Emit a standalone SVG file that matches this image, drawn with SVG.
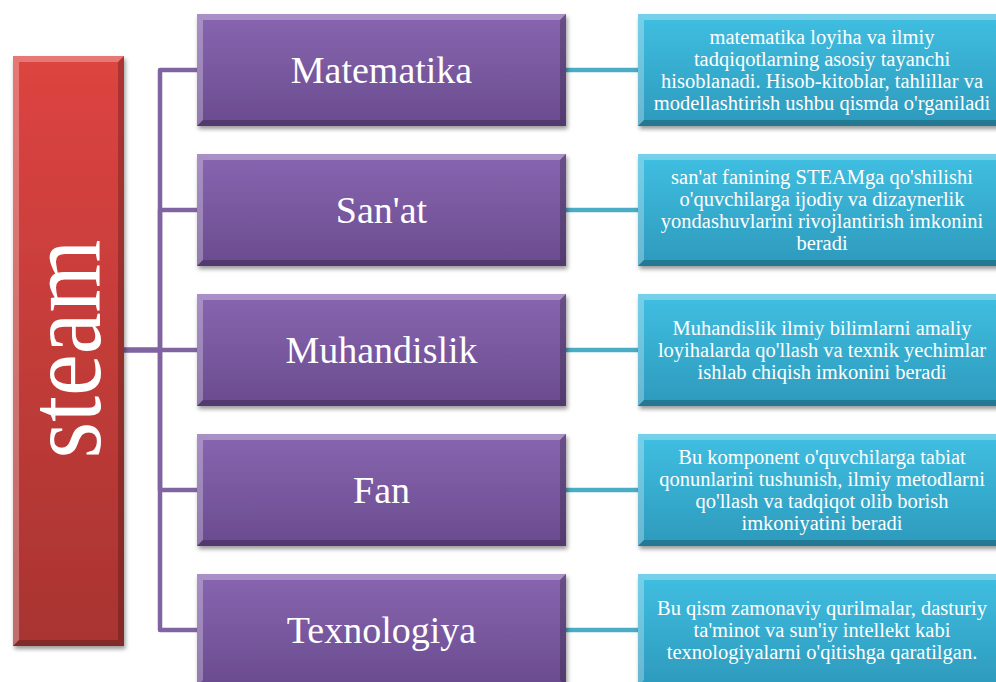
<svg xmlns="http://www.w3.org/2000/svg" width="996" height="682" viewBox="0 0 996 682">
<defs>
<linearGradient id="gRed" x1="0" y1="0" x2="0" y2="1"><stop offset="0" stop-color="#dd4441"/><stop offset="1" stop-color="#a83431"/></linearGradient>
<linearGradient id="gPur" x1="0" y1="0" x2="0" y2="1"><stop offset="0" stop-color="#8866b0"/><stop offset="1" stop-color="#6a4b8f"/></linearGradient>
<linearGradient id="gCyn" x1="0" y1="0" x2="0" y2="1"><stop offset="0" stop-color="#40bfe2"/><stop offset="1" stop-color="#2d9abc"/></linearGradient>
<filter id="sh" x="-10%" y="-10%" width="120%" height="130%"><feDropShadow dx="1.5" dy="3" stdDeviation="2" flood-color="#000" flood-opacity="0.4"/></filter>
</defs>
<style>
.lbl{font-family:"Liberation Serif","Times New Roman",serif;fill:#fff;text-anchor:middle;font-size:38px}
.desc{font-family:"Liberation Serif","Times New Roman",serif;fill:#fff;text-anchor:middle;font-size:20.5px}
.hl{fill:#fff;opacity:0.28}
.dk{fill:#000;opacity:0.22}
.cp{fill:none;stroke:#8064a2;stroke-width:4.5;stroke-linejoin:round}
.ct{fill:none;stroke:#4bacc6;stroke-width:4.5}
</style>
<rect width="996" height="682" fill="#fff"/>
<g id="connectors">
<path class="cp" d="M124,350 H160 V70 H197"/>
<path class="cp" d="M124,350 H160 V210 H197"/>
<path class="cp" d="M124,350 H197"/>
<path class="cp" d="M124,350 H160 V490 H197"/>
<path class="cp" d="M124,350 H160 V630 H197"/>
<path class="ct" d="M566,70 H638"/>
<path class="ct" d="M566,210 H638"/>
<path class="ct" d="M566,350 H638"/>
<path class="ct" d="M566,490 H638"/>
<path class="ct" d="M566,630 H638"/>
</g>
<g id="steam">
<rect x="13" y="56" width="111" height="590" fill="url(#gRed)" filter="url(#sh)"/>
<polygon class="hl" points="13,56 124,56 118,62 19,62"/>
<polygon class="hl" points="13,56 19,62 19,640 13,646"/>
<polygon class="dk" points="124,56 124,646 118,640 118,62"/>
<polygon class="dk" points="13,646 124,646 118,640 19,640"/>
<text transform="translate(100,349) rotate(-90) scale(1,1.12)" style="font-family:'Liberation Serif','Times New Roman',serif;fill:#fff;font-size:94px;text-anchor:middle">steam</text>
</g>
<g id="matematika">
<rect x="197" y="14" width="369" height="112" fill="url(#gPur)" filter="url(#sh)"/>
<polygon class="hl" points="197,14 566,14 560,20 203,20"/><polygon class="hl" points="197,14 203,20 203,120 197,126"/><polygon class="dk" points="566,14 566,126 560,120 560,20"/><polygon class="dk" points="197,126 566,126 560,120 203,120"/>
<text class="lbl" x="381.5" y="83">Matematika</text>
</g>
<g id="sanat">
<rect x="197" y="154" width="369" height="112" fill="url(#gPur)" filter="url(#sh)"/>
<polygon class="hl" points="197,154 566,154 560,160 203,160"/><polygon class="hl" points="197,154 203,160 203,260 197,266"/><polygon class="dk" points="566,154 566,266 560,260 560,160"/><polygon class="dk" points="197,266 566,266 560,260 203,260"/>
<text class="lbl" x="381.5" y="223">San'at</text>
</g>
<g id="muhandislik">
<rect x="197" y="294" width="369" height="112" fill="url(#gPur)" filter="url(#sh)"/>
<polygon class="hl" points="197,294 566,294 560,300 203,300"/><polygon class="hl" points="197,294 203,300 203,400 197,406"/><polygon class="dk" points="566,294 566,406 560,400 560,300"/><polygon class="dk" points="197,406 566,406 560,400 203,400"/>
<text class="lbl" x="381.5" y="363">Muhandislik</text>
</g>
<g id="fan">
<rect x="197" y="434" width="369" height="112" fill="url(#gPur)" filter="url(#sh)"/>
<polygon class="hl" points="197,434 566,434 560,440 203,440"/><polygon class="hl" points="197,434 203,440 203,540 197,546"/><polygon class="dk" points="566,434 566,546 560,540 560,440"/><polygon class="dk" points="197,546 566,546 560,540 203,540"/>
<text class="lbl" x="381.5" y="503">Fan</text>
</g>
<g id="texnologiya">
<rect x="197" y="574" width="369" height="112" fill="url(#gPur)" filter="url(#sh)"/>
<polygon class="hl" points="197,574 566,574 560,580 203,580"/><polygon class="hl" points="197,574 203,580 203,680 197,686"/><polygon class="dk" points="566,574 566,686 560,680 560,580"/>
<text class="lbl" x="381.5" y="643">Texnologiya</text>
</g>
<g id="desc-matematika">
<rect x="638" y="14" width="370" height="112" fill="url(#gCyn)" filter="url(#sh)"/>
<polygon class="hl" points="638,14 1008,14 1002,20 644,20"/><polygon class="hl" points="638,14 644,20 644,120 638,126"/><polygon class="dk" points="638,126 1008,126 1002,120 644,120"/>
<text class="desc" x="822"><tspan x="822" y="44">matematika loyiha va ilmiy</tspan><tspan x="822" y="66">tadqiqotlarning asosiy tayanchi</tspan><tspan x="822" y="88">hisoblanadi. Hisob-kitoblar, tahlillar va</tspan><tspan x="822" y="110">modellashtirish ushbu qismda o'rganiladi</tspan></text>
</g>
<g id="desc-sanat">
<rect x="638" y="154" width="370" height="112" fill="url(#gCyn)" filter="url(#sh)"/>
<polygon class="hl" points="638,154 1008,154 1002,160 644,160"/><polygon class="hl" points="638,154 644,160 644,260 638,266"/><polygon class="dk" points="638,266 1008,266 1002,260 644,260"/>
<text class="desc" x="822"><tspan x="822" y="184">san'at fanining STEAMga qo'shilishi</tspan><tspan x="822" y="206">o'quvchilarga ijodiy va dizaynerlik</tspan><tspan x="822" y="228">yondashuvlarini rivojlantirish imkonini</tspan><tspan x="822" y="250">beradi</tspan></text>
</g>
<g id="desc-muhandislik">
<rect x="638" y="294" width="370" height="112" fill="url(#gCyn)" filter="url(#sh)"/>
<polygon class="hl" points="638,294 1008,294 1002,300 644,300"/><polygon class="hl" points="638,294 644,300 644,400 638,406"/><polygon class="dk" points="638,406 1008,406 1002,400 644,400"/>
<text class="desc" x="822"><tspan x="822" y="335">Muhandislik ilmiy bilimlarni amaliy</tspan><tspan x="822" y="357">loyihalarda qo'llash va texnik yechimlar</tspan><tspan x="822" y="379">ishlab chiqish imkonini beradi</tspan></text>
</g>
<g id="desc-fan">
<rect x="638" y="434" width="370" height="112" fill="url(#gCyn)" filter="url(#sh)"/>
<polygon class="hl" points="638,434 1008,434 1002,440 644,440"/><polygon class="hl" points="638,434 644,440 644,540 638,546"/><polygon class="dk" points="638,546 1008,546 1002,540 644,540"/>
<text class="desc" x="822"><tspan x="822" y="464">Bu komponent o'quvchilarga tabiat</tspan><tspan x="822" y="486">qonunlarini tushunish, ilmiy metodlarni</tspan><tspan x="822" y="508">qo'llash va tadqiqot olib borish</tspan><tspan x="822" y="530">imkoniyatini beradi</tspan></text>
</g>
<g id="desc-texnologiya">
<rect x="638" y="574" width="370" height="112" fill="url(#gCyn)" filter="url(#sh)"/>
<polygon class="hl" points="638,574 1008,574 1002,580 644,580"/><polygon class="hl" points="638,574 644,580 644,680 638,686"/>
<text class="desc" x="822"><tspan x="822" y="615">Bu qism zamonaviy qurilmalar, dasturiy</tspan><tspan x="822" y="637">ta'minot va sun'iy intellekt kabi</tspan><tspan x="822" y="659">texnologiyalarni o'qitishga qaratilgan.</tspan></text>
</g>
</svg>
